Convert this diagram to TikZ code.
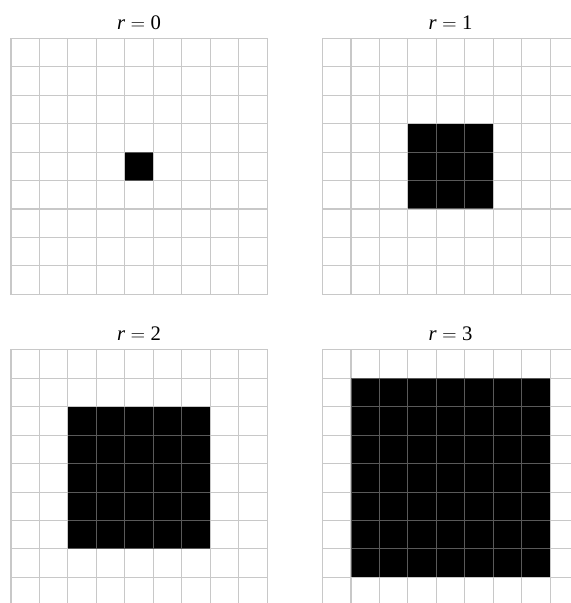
\documentclass[tikz,border=0pt]{standalone}
\usepackage{fontspec}
\setmainfont{Liberation Serif}
\begin{document}
\begin{tikzpicture}[x=21.34pt, y=21.34pt, line cap=rect,
    cell/.style={fill=black},
    gridline/.style={line width=0.8pt, draw=black!38, opacity=0.57, step={(1,1)}},
    title/.style={anchor=base, inner sep=0pt, font=\fontsize{15.5}{18}\selectfont}]
  \clip (-0.387,-10.85) rectangle (19.68,10.346);
  \useasboundingbox (-0.387,-10.85) rectangle (19.68,10.346);
  % r = 0
  \begin{scope}
    \fill[cell] (4,4) rectangle (5,5);
    \draw[gridline] (0,0) grid (9,9);
    \node[title] (r0) at (4.5,9.31) {\textit{r}$\;=\;$0};
  \end{scope}
  % r = 1
  \begin{scope}[xshift=10.95*21.34pt]
    \fill[cell] (3,3) rectangle (6,6);
    \draw[gridline] (0,0) grid (9,9);
    \node[title] (r1) at (4.5,9.31) {\textit{r}$\;=\;$1};
  \end{scope}
  % r = 2
  \begin{scope}[yshift=-10.95*21.34pt]
    \fill[cell] (2,2) rectangle (7,7);
    \draw[gridline] (0,0) grid (9,9);
    \node[title] (r2) at (4.5,9.31) {\textit{r}$\;=\;$2};
  \end{scope}
  % r = 3
  \begin{scope}[xshift=10.95*21.34pt, yshift=-10.95*21.34pt]
    \fill[cell] (1,1) rectangle (8,8);
    \draw[gridline] (0,0) grid (9,9);
    \node[title] (r3) at (4.5,9.31) {\textit{r}$\;=\;$3};
  \end{scope}
\end{tikzpicture}
\end{document}
